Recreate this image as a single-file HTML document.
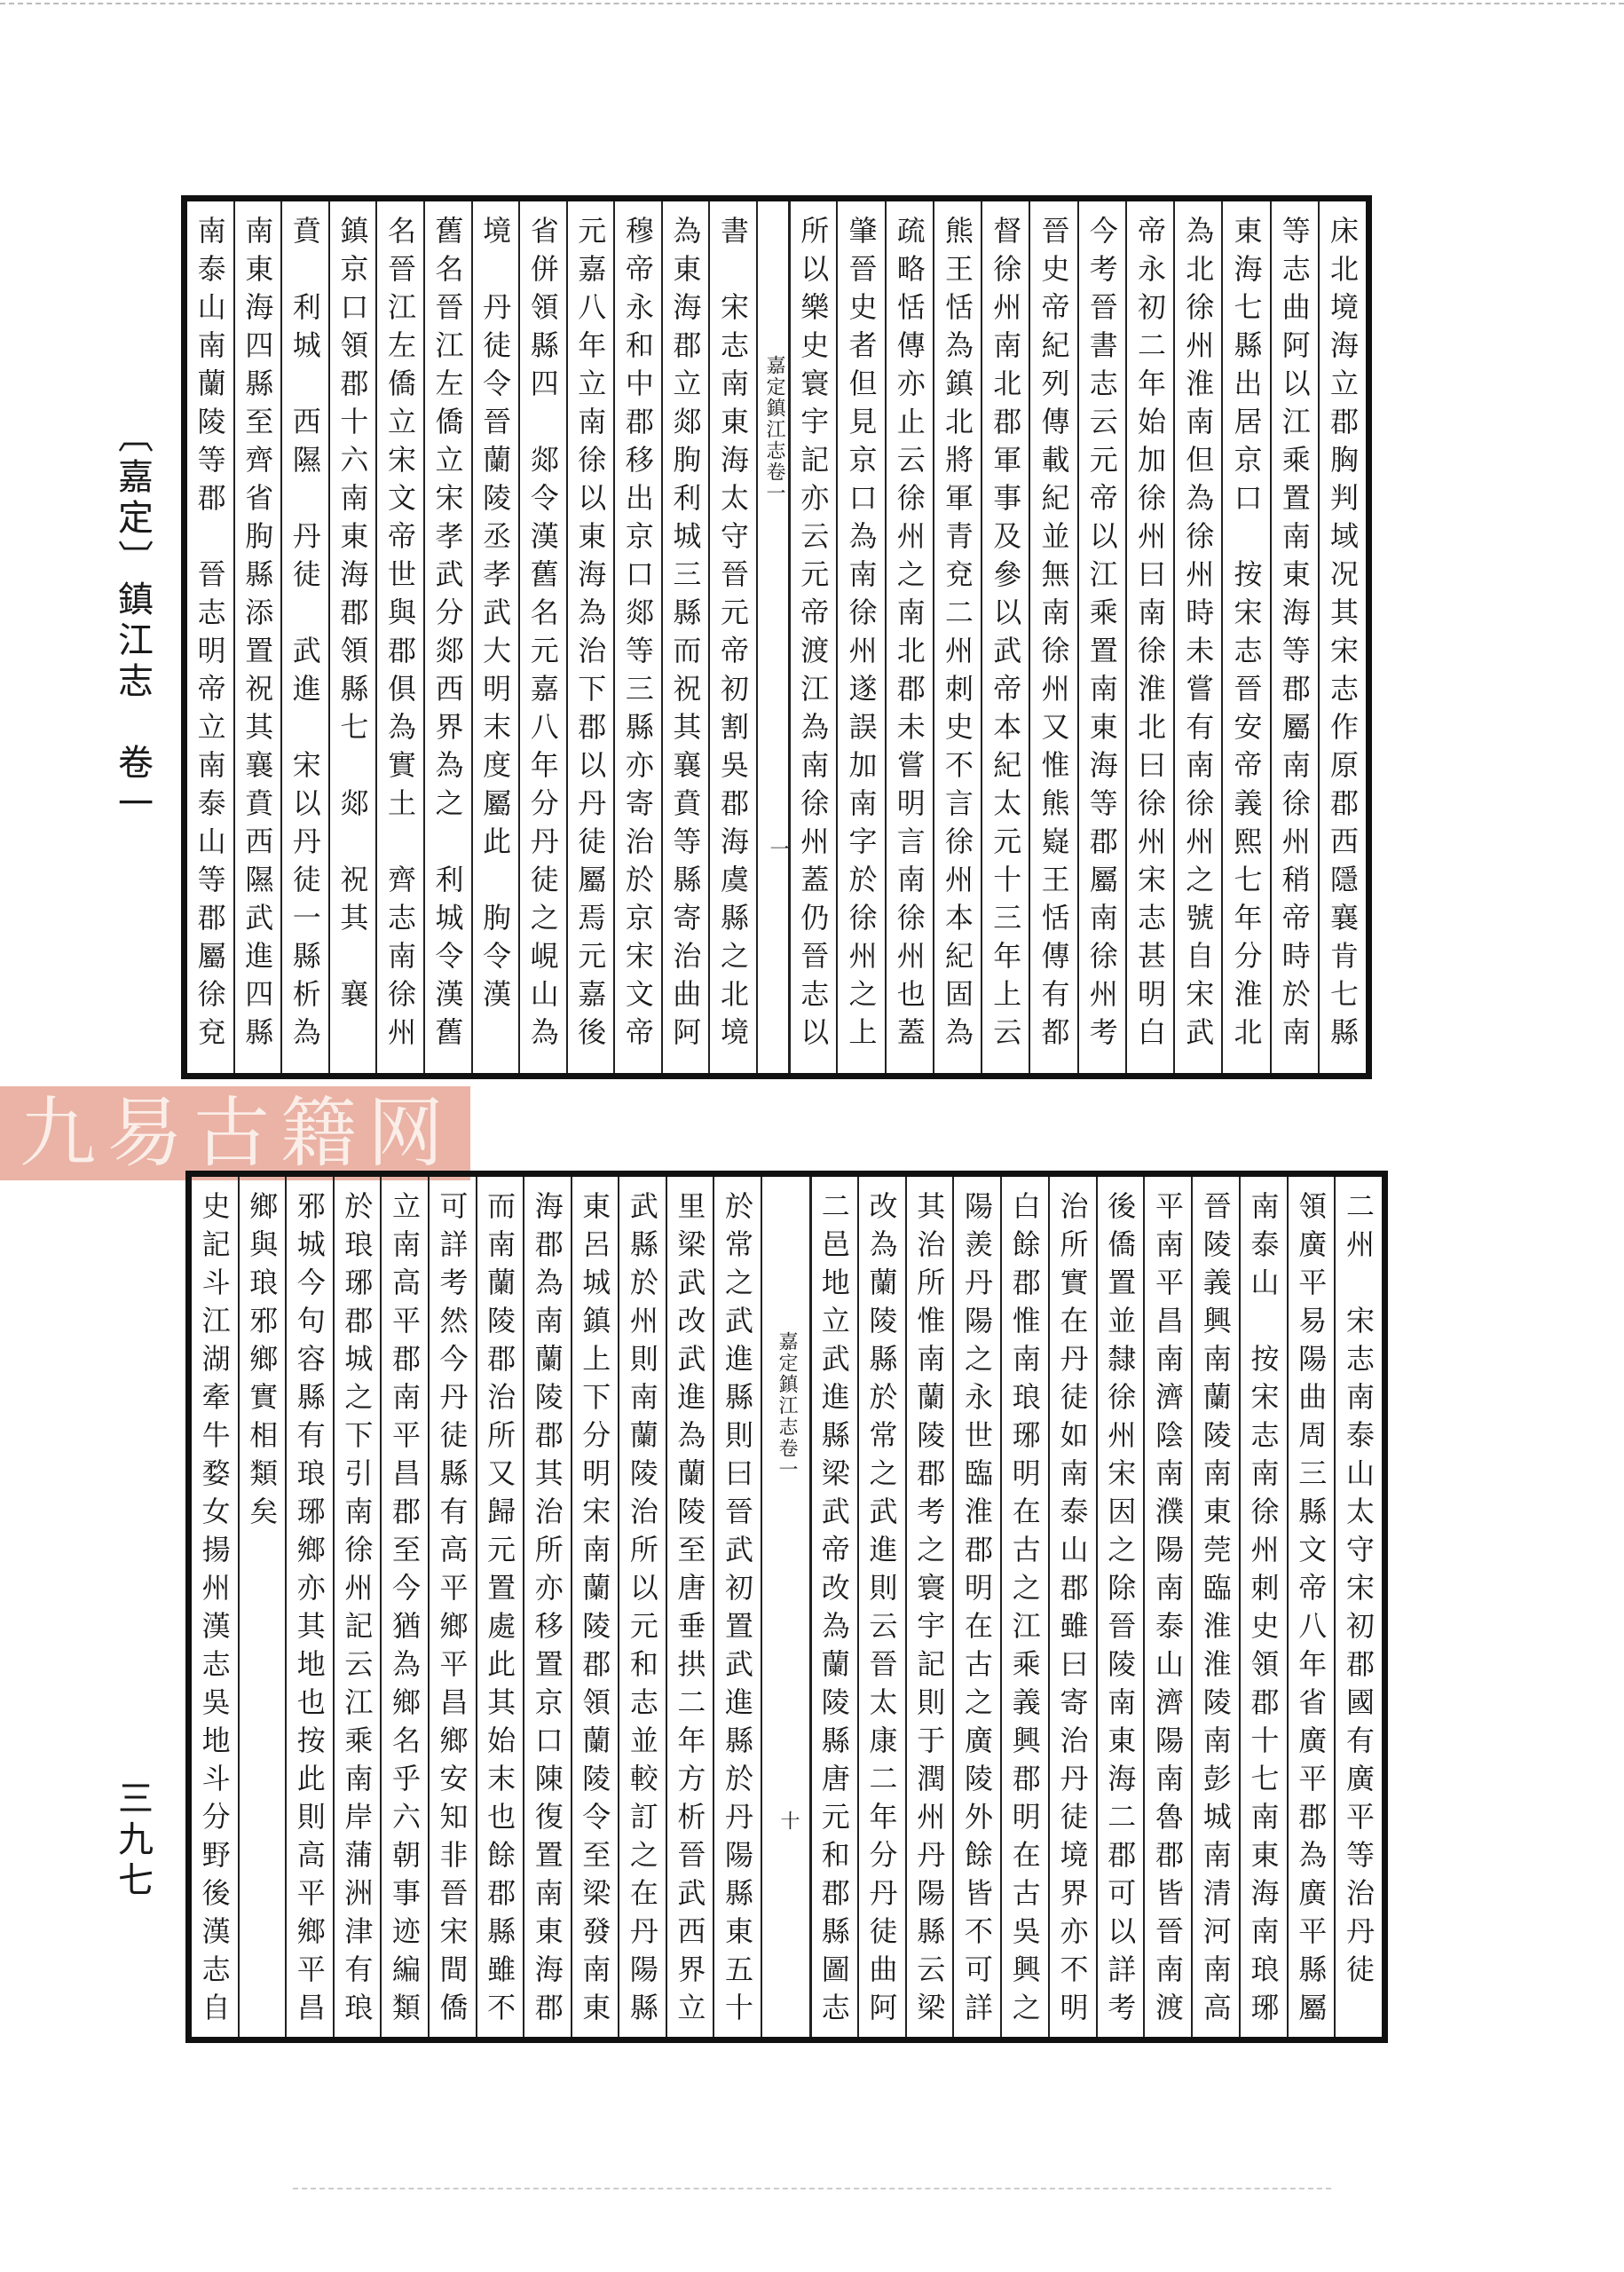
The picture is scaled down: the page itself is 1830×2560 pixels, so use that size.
<!DOCTYPE html>
<html><head><meta charset="utf-8">
<style>
html,body{margin:0;padding:0;background:#fff;}
body{width:1830px;height:2560px;position:relative;overflow:hidden;font-family:"Liberation Serif","Noto Serif CJK SC","Noto Sans CJK SC",serif;color:#1a1a1a;}
.panel{position:absolute;border:7px solid #111;box-sizing:border-box;}
.half{position:absolute;display:flex;flex-direction:row-reverse;box-sizing:border-box;}
.col{flex:1;writing-mode:vertical-rl;border-left:2px solid #222;box-sizing:border-box;font-size:32px;letter-spacing:11px;line-height:52px;padding-top:16px;overflow:hidden;white-space:nowrap;text-align:left;}
.col:last-child{border-left:none;}
.gut{position:absolute;writing-mode:vertical-rl;font-size:22px;letter-spacing:2px;}
.side{position:absolute;writing-mode:vertical-rl;font-size:40px;letter-spacing:6px;font-family:"Liberation Sans","Noto Sans CJK SC",sans-serif;}
.wm{position:absolute;left:0;top:1224px;width:530px;height:106px;background:#eab3a5;color:#fbeee9;font-size:86px;line-height:106px;letter-spacing:12px;padding-left:22px;box-sizing:border-box;font-family:"Liberation Serif","Noto Serif CJK SC",serif;}
</style></head><body>

<div style="position:absolute;left:0;top:3px;width:1830px;border-top:2px dashed #bbb;"></div>

<div class="side" style="left:120px;top:470px;">〔嘉定〕鎮江志　卷一</div>
<div class="side" style="left:120px;top:2005px;">三九七</div>

<!-- TOP PANEL -->
<div class="panel" style="left:204px;top:220px;width:1342px;height:996px;"></div>
<div style="position:absolute;left:852px;top:227px;width:2px;height:982px;background:#222;"></div>
<div style="position:absolute;left:888px;top:227px;width:3px;height:982px;background:#222;"></div>
<div class="gut" style="left:858px;top:400px;">嘉定鎮江志卷一</div>
<div class="gut" style="left:862px;top:945px;">一</div>

<div class="half" style="left:890px;top:227px;width:649px;height:982px;">
<div class="col">床北境海立郡胸判域况其宋志作原郡西隱襄肯七縣</div>
<div class="col">等志曲阿以江乘置南東海等郡屬南徐州稍帝時於南</div>
<div class="col">東海七縣出居京口　按宋志晉安帝義熙七年分淮北</div>
<div class="col">為北徐州淮南但為徐州時未嘗有南徐州之號自宋武</div>
<div class="col">帝永初二年始加徐州曰南徐淮北曰徐州宋志甚明白</div>
<div class="col">今考晉書志云元帝以江乘置南東海等郡屬南徐州考</div>
<div class="col">晉史帝紀列傳載紀並無南徐州又惟熊嶷王恬傳有都</div>
<div class="col">督徐州南北郡軍事及參以武帝本紀太元十三年上云</div>
<div class="col">熊王恬為鎮北將軍青兗二州刺史不言徐州本紀固為</div>
<div class="col">疏略恬傳亦止云徐州之南北郡未嘗明言南徐州也蓋</div>
<div class="col">肇晉史者但見京口為南徐州遂誤加南字於徐州之上</div>
<div class="col">所以樂史寰宇記亦云元帝渡江為南徐州蓋仍晉志以</div>
</div>

<div class="half" style="left:211px;top:227px;width:641px;height:982px;">
<div class="col">書　宋志南東海太守晉元帝初割吳郡海虞縣之北境</div>
<div class="col">為東海郡立郯朐利城三縣而祝其襄賁等縣寄治曲阿</div>
<div class="col">穆帝永和中郡移出京口郯等三縣亦寄治於京宋文帝</div>
<div class="col">元嘉八年立南徐以東海為治下郡以丹徒屬焉元嘉後</div>
<div class="col">省併領縣四　郯令漢舊名元嘉八年分丹徒之峴山為</div>
<div class="col">境　丹徒令晉蘭陵丞孝武大明末度屬此　朐令漢</div>
<div class="col">舊名晉江左僑立宋孝武分郯西界為之　利城令漢舊</div>
<div class="col">名晉江左僑立宋文帝世與郡俱為實土　齊志南徐州</div>
<div class="col">鎮京口領郡十六南東海郡領縣七　郯　祝其　襄</div>
<div class="col">賁　利城　西隰　丹徒　武進　宋以丹徒一縣析為</div>
<div class="col">南東海四縣至齊省朐縣添置祝其襄賁西隰武進四縣</div>
<div class="col">南泰山南蘭陵等郡　晉志明帝立南泰山等郡屬徐兗</div>
</div>

<!-- WATERMARK -->
<div class="wm">九易古籍网</div>

<!-- BOTTOM PANEL -->
<div class="panel" style="left:209px;top:1319px;width:1355px;height:983px;"></div>
<div style="position:absolute;left:857px;top:1326px;width:2px;height:969px;background:#222;"></div>
<div style="position:absolute;left:912px;top:1326px;width:3px;height:969px;background:#222;"></div>
<div class="gut" style="left:872px;top:1500px;">嘉定鎮江志卷一</div>
<div class="gut" style="left:874px;top:2040px;">十</div>

<div class="half" style="left:914px;top:1326px;width:643px;height:969px;">
<div class="col">二州　宋志南泰山太守宋初郡國有廣平等治丹徒</div>
<div class="col">領廣平易陽曲周三縣文帝八年省廣平郡為廣平縣屬</div>
<div class="col">南泰山　按宋志南徐州刺史領郡十七南東海南琅琊</div>
<div class="col">晉陵義興南蘭陵南東莞臨淮淮陵南彭城南清河南高</div>
<div class="col">平南平昌南濟陰南濮陽南泰山濟陽南魯郡皆晉南渡</div>
<div class="col">後僑置並隸徐州宋因之除晉陵南東海二郡可以詳考</div>
<div class="col">治所實在丹徒如南泰山郡雖曰寄治丹徒境界亦不明</div>
<div class="col">白餘郡惟南琅琊明在古之江乘義興郡明在古吳興之</div>
<div class="col">陽羨丹陽之永世臨淮郡明在古之廣陵外餘皆不可詳</div>
<div class="col">其治所惟南蘭陵郡考之寰宇記則于潤州丹陽縣云梁</div>
<div class="col">改為蘭陵縣於常之武進則云晉太康二年分丹徒曲阿</div>
<div class="col">二邑地立武進縣梁武帝改為蘭陵縣唐元和郡縣圖志</div>
</div>

<div class="half" style="left:216px;top:1326px;width:641px;height:969px;">
<div class="col">於常之武進縣則曰晉武初置武進縣於丹陽縣東五十</div>
<div class="col">里梁武改武進為蘭陵至唐垂拱二年方析晉武西界立</div>
<div class="col">武縣於州則南蘭陵治所以元和志並較訂之在丹陽縣</div>
<div class="col">東呂城鎮上下分明宋南蘭陵郡領蘭陵令至梁發南東</div>
<div class="col">海郡為南蘭陵郡其治所亦移置京口陳復置南東海郡</div>
<div class="col">而南蘭陵郡治所又歸元置處此其始末也餘郡縣雖不</div>
<div class="col">可詳考然今丹徒縣有高平鄉平昌鄉安知非晉宋間僑</div>
<div class="col">立南高平郡南平昌郡至今猶為鄉名乎六朝事迹編類</div>
<div class="col">於琅琊郡城之下引南徐州記云江乘南岸蒲洲津有琅</div>
<div class="col">邪城今句容縣有琅琊鄉亦其地也按此則高平鄉平昌</div>
<div class="col">鄉與琅邪鄉實相類矣</div>
<div class="col">史記斗江湖牽牛婺女揚州漢志吳地斗分野後漢志自</div>
</div>

<div style="position:absolute;left:330px;top:2465px;width:1170px;border-top:2px dashed #ccc;"></div>
</body></html>
